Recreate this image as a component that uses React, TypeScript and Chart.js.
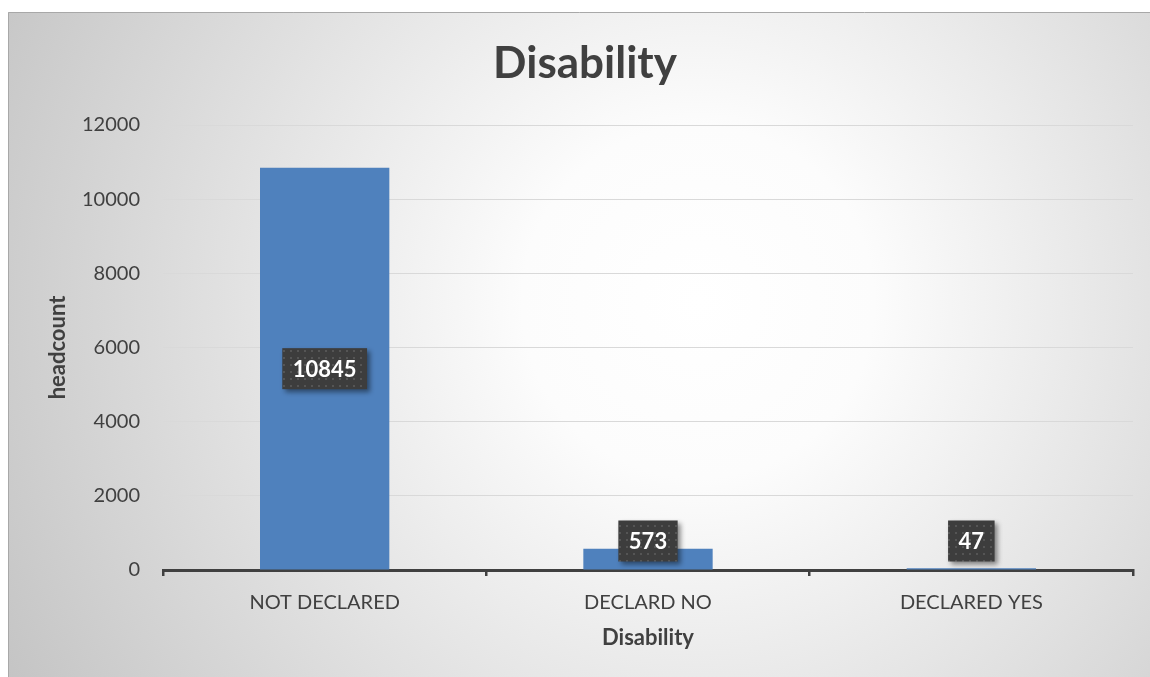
import React, { useEffect, useRef } from "react";
import { Chart, registerables } from "chart.js";

Chart.register(...registerables);

const categories = ["NOT DECLARED", "DECLARD NO", "DECLARED YES"];
const headcount = [10845, 573, 47];
const yMin = 0;
const yMax = 12000;
const yStep = 2000;
const chartTitle = "Disability";
const xAxisTitle = "Disability";
const yAxisTitle = "headcount";

const FONT = "Lato, 'Open Sans', 'DejaVu Sans', sans-serif";
const W = 1142;
const H = 665;

function makePattern(ctx: CanvasRenderingContext2D) {
  const c = document.createElement("canvas");
  c.width = 7;
  c.height = 7;
  const g = c.getContext("2d")!;
  g.fillStyle = "#3d3d3d";
  g.fillRect(0, 0, 7, 7);
  g.fillStyle = "#555555";
  g.fillRect(2, 2, 2, 2);
  return ctx.createPattern(c, "repeat");
}

const backgroundPlugin = {
  id: "bgPlugin",
  beforeDraw(chart: any) {
    const { ctx, width, height } = chart;
    ctx.save();
    const grad = ctx.createRadialGradient(690, 290, 0, 690, 290, 800);
    grad.addColorStop(0, "#ffffff");
    grad.addColorStop(0.22, "#fcfcfc");
    grad.addColorStop(1, "#c3c3c3");
    ctx.fillStyle = grad;
    ctx.fillRect(0, 0, width, height);
    ctx.strokeStyle = "#a8a8a8";
    ctx.lineWidth = 1;
    ctx.beginPath();
    ctx.moveTo(0.5, height);
    ctx.lineTo(0.5, 0.5);
    ctx.lineTo(width, 0.5);
    ctx.stroke();
    ctx.restore();
  },
};

const titlePlugin = {
  id: "titlePlugin",
  afterDraw(chart: any) {
    const { ctx } = chart;
    ctx.save();
    ctx.fillStyle = "#404040";
    ctx.font = `bold 44px ${FONT}`;
    ctx.textAlign = "center";
    ctx.textBaseline = "alphabetic";
    ctx.fillText(chartTitle, 577, 66);
    ctx.restore();
  },
};

const labelPlugin = {
  id: "labelPlugin",
  afterDatasetsDraw(chart: any) {
    const { ctx } = chart;
    const meta = chart.getDatasetMeta(0);
    const pattern = makePattern(ctx);
    ctx.save();
    ctx.font = `bold 22px ${FONT}`;
    meta.data.forEach((bar: any, i: number) => {
      const { x, y, base } = bar.getProps(["x", "y", "base"], true);
      const text = String(headcount[i]);
      const tw = ctx.measureText(text).width;
      const bw = tw + 21;
      const bh = 41;
      let cy = (y + base) / 2;
      cy = Math.min(cy, base - 8 - bh / 2);
      const bx = x - bw / 2;
      const by = cy - bh / 2;
      ctx.save();
      ctx.shadowColor = "rgba(0,0,0,0.45)";
      ctx.shadowBlur = 5;
      ctx.shadowOffsetX = 3;
      ctx.shadowOffsetY = 3;
      ctx.fillStyle = pattern || "#404040";
      ctx.fillRect(bx, by, bw, bh);
      ctx.restore();
      ctx.fillStyle = "#ffffff";
      ctx.textAlign = "center";
      ctx.textBaseline = "middle";
      ctx.fillText(text, x, cy + 1);
    });
    ctx.restore();
  },
};

export default function App() {
  const ref = useRef<HTMLCanvasElement | null>(null);

  useEffect(() => {
    if (!ref.current) return;
    const chart = new Chart(ref.current, {
      type: "bar",
      data: {
        labels: categories,
        datasets: [
          {
            label: yAxisTitle,
            data: headcount,
            backgroundColor: "#4f81bd",
            borderWidth: 0,
            categoryPercentage: 1,
            barPercentage: 0.4,
          },
        ],
      },
      options: {
        animation: false,
        responsive: false,
        maintainAspectRatio: false,
        devicePixelRatio: 1,
        layout: { padding: { top: 113, right: 17, left: 0, bottom: 0 } },
        plugins: {
          legend: { display: false },
          title: { display: false },
          tooltip: { enabled: false },
        },
        scales: {
          x: {
            offset: true,
            afterFit: (scale: any) => {
              scale.height = 107;
            },
            grid: {
              display: true,
              offset: true,
              drawOnChartArea: false,
              drawTicks: true,
              tickLength: 6,
              color: "#404040",
              lineWidth: 2.5,
            },
            border: { display: true, color: "#404040", width: 3 },
            ticks: {
              color: "#404040",
              font: { family: FONT, size: 20 },
              padding: 15,
              maxRotation: 0,
            },
            title: {
              display: true,
              text: xAxisTitle,
              color: "#404040",
              font: { family: FONT, size: 22, weight: "bold" },
              padding: { top: 0, bottom: 26 },
            },
          },
          y: {
            min: yMin,
            max: yMax,
            afterFit: (scale: any) => {
              scale.width = 155;
            },
            grid: {
              drawTicks: false,
              color: (c: any) => (c.tick && c.tick.value === 0 ? "rgba(0,0,0,0)" : "#d9d9d9"),
              lineWidth: 1,
            },
            border: { display: false },
            ticks: {
              stepSize: yStep,
              color: "#404040",
              font: { family: FONT, size: 20 },
              padding: 23,
              callback: (v: any) => String(v),
            },
            title: {
              display: true,
              text: yAxisTitle,
              color: "#404040",
              font: { family: FONT, size: 22, weight: "bold" },
              padding: { top: 36.8, bottom: 0 },
            },
          },
        },
      },
      plugins: [backgroundPlugin, labelPlugin, titlePlugin],
    });
    return () => chart.destroy();
  }, []);

  return (
    <div style={{ position: "absolute", left: 8, top: 12, width: W, height: H }}>
      <canvas ref={ref} width={W} height={H} style={{ width: W, height: H, display: "block" }} />
    </div>
  );
}
